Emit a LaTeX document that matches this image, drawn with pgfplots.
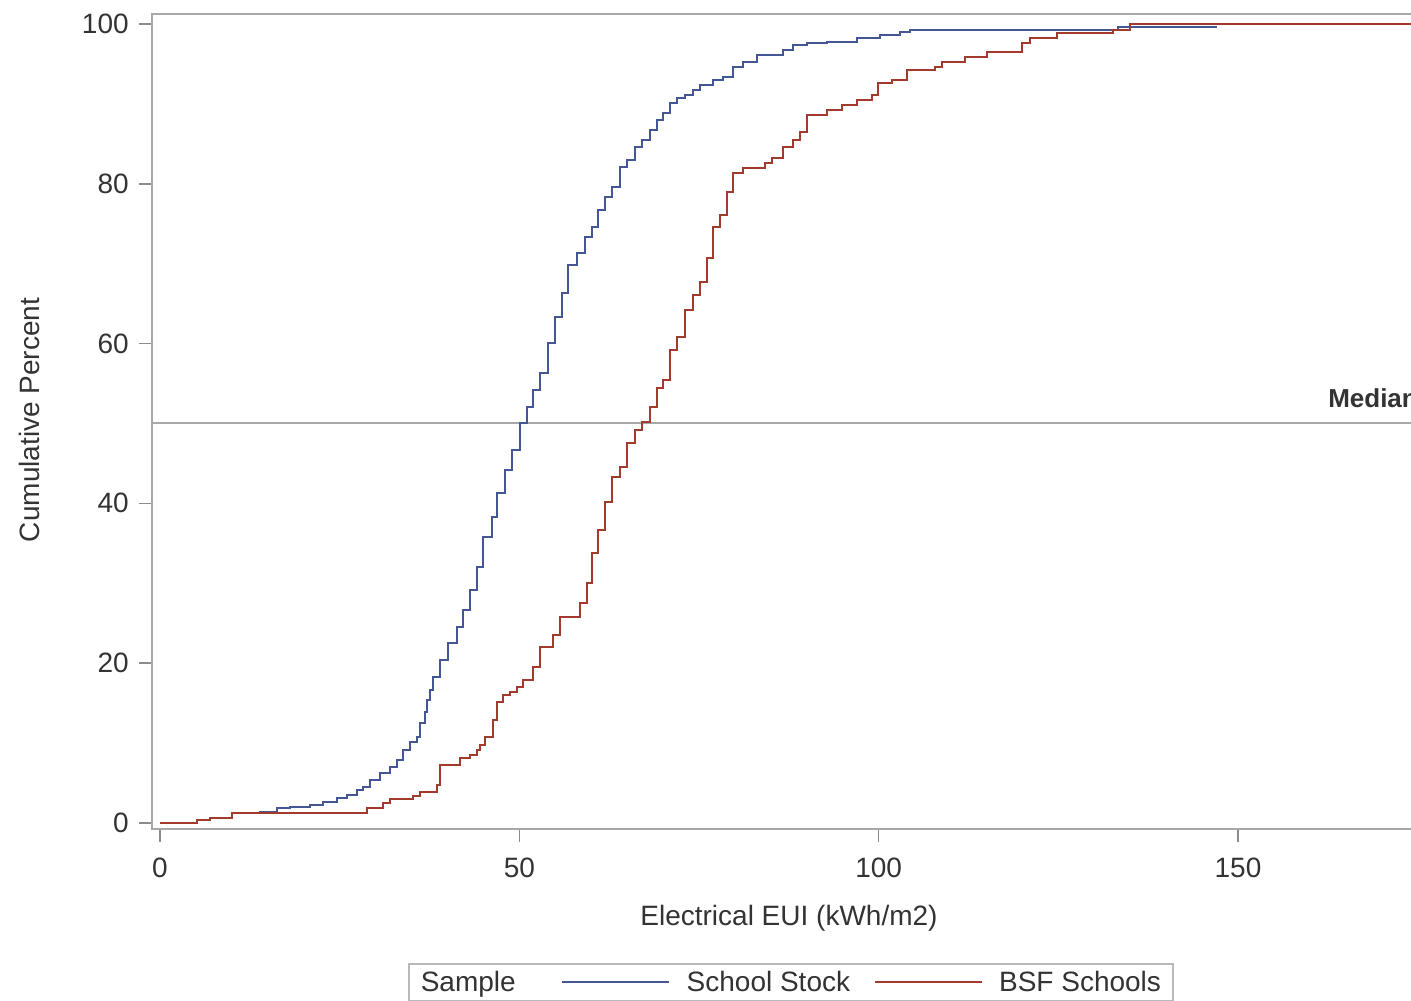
\documentclass[border=0pt]{standalone}
\usepackage{fontspec}
\setmainfont{Liberation Sans}
\usepackage{pgfplots}
\pgfplotsset{compat=1.18}
\usepackage{pgfplotstable}
\definecolor{sasblue}{HTML}{445694}
\definecolor{sasred}{HTML}{A23A2E}
\definecolor{axgray}{HTML}{A8A8A8}
\definecolor{tkgray}{HTML}{8C8C8C}
\definecolor{txt}{HTML}{333333}

\pgfplotstableread{
x y
0 0
5.15 0.38
6.96 0.63
10.02 1.25
13.91 1.38
16.28 1.88
18.09 2.00
20.87 2.25
22.68 2.63
24.63 3.13
26.02 3.50
27.41 4.13
28.25 4.51
29.22 5.38
30.61 6.26
32.00 7.01
32.98 7.88
33.81 9.14
34.79 10.14
35.76 10.76
36.18 12.52
36.87 13.89
37.15 15.39
37.57 16.65
37.99 18.27
38.96 20.40
40.07 22.53
41.32 24.53
42.16 26.66
43.13 29.16
44.11 32.04
44.94 35.79
46.19 38.30
46.89 41.30
48.00 44.18
48.98 46.68
50.09 50.06
51.06 52.07
51.90 54.19
52.87 56.32
53.99 60.08
54.96 63.33
55.93 66.33
56.77 69.84
58.02 71.34
59.13 73.34
60.11 74.59
60.94 76.72
61.92 78.35
62.89 79.60
64.00 82.10
64.98 82.98
66.09 84.61
67.07 85.48
68.18 86.73
69.15 87.98
69.99 88.86
70.96 90.11
71.94 90.74
73.05 91.11
74.16 91.74
75.14 92.37
76.95 92.99
78.34 93.37
79.73 94.62
81.12 95.24
83.07 96.12
86.68 96.75
88.08 97.37
90.02 97.62
92.80 97.75
96.98 98.25
100.18 98.62
102.96 99.00
104.35 99.25
133.32 99.62
147.07 99.62
}\stock

\pgfplotstableread{
x y
0 0
5.15 0.38
6.96 0.63
10.02 1.25
28.80 1.88
31.03 2.50
32.00 3.00
35.20 3.38
36.18 3.88
38.54 4.70
38.96 7.26
41.75 8.14
43.13 8.51
44.11 9.14
44.53 9.76
45.22 10.76
46.33 12.89
46.89 15.14
47.72 16.02
48.70 16.40
49.67 17.02
50.51 17.90
51.90 19.52
52.87 22.03
54.68 23.53
55.66 25.78
58.44 27.53
59.41 30.04
60.11 33.79
60.94 36.67
61.92 40.18
62.89 43.30
64.00 44.56
64.98 47.56
66.09 49.19
67.07 50.19
68.18 52.07
69.15 54.44
69.99 55.44
70.96 59.20
71.94 60.83
73.05 64.21
74.16 66.08
75.14 67.71
76.11 70.71
76.95 74.59
77.92 76.10
78.89 78.97
79.73 81.35
81.12 81.98
84.18 82.60
85.15 83.23
86.68 84.61
88.08 85.48
89.05 86.48
90.02 88.61
92.80 89.24
94.89 89.86
96.98 90.49
99.07 91.11
99.90 92.62
101.85 92.99
103.94 94.24
107.83 94.62
108.81 95.24
112.01 95.87
115.07 96.50
119.94 97.62
121.05 98.25
124.81 98.87
132.60 99.25
134.97 100
176.4 100
}\bsf

\begin{document}
\begin{tikzpicture}[font=\fontsize{14}{16}\selectfont]
\begin{axis}[
  x=3.5935pt, y=3.995pt,
  xmin=-1.1, xmax=176.4, ymin=-0.75, ymax=101.25,
  axis line style={axgray, line width=1pt},
  xtick={0,50,100,150}, ytick={0,20,40,60,80,100},
  xtick pos=bottom, ytick pos=left,
  tick align=outside, major tick length=6.5pt,
  tick style={tkgray, line width=0.8pt},
  minor tick num=0,
  /pgf/number format/assume math mode=true,
  xticklabel style={inner sep=0pt, yshift=-8pt, text=txt},
  yticklabel style={inner sep=0pt, xshift=-5pt, text=txt},
  clip=false,
  legend columns=3,
  legend style={at={(0.2006,-0.1644)}, anchor=north west,
    draw=axgray!80, line width=0.8pt, inner xsep=6pt, inner ysep=3.5pt,
    nodes={inner sep=0pt, text=txt}, cells={anchor=west},
    font=\fontsize{14}{16}\selectfont},
]
\addlegendimage{empty legend}
\addlegendentry{Sample}
\addplot[axgray, line width=1pt, forget plot] coordinates {(-1.1,50) (176.4,50)};
\addplot[const plot, sasblue, line width=1pt,
  legend image code/.code={\path[draw=none, fill=none] (0pt,0pt) -- (85.5pt,0pt); \draw[sasblue, line width=1pt] (23pt,0pt) -- (76.5pt,0pt);}]
  table[x=x, y=y] {\stock};
\addlegendentry{School Stock}
\addplot[const plot, sasred, line width=1pt,
  legend image code/.code={\path[draw=none, fill=none] (0pt,0pt) -- (74.5pt,0pt); \draw[sasred, line width=1pt] (12.5pt,0pt) -- (66pt,0pt);}]
  table[x=x, y=y] {\bsf};
\addlegendentry{BSF Schools}
\node[rotate=90, anchor=center, text=txt] at (axis cs:-18.09,50.44) {Cumulative Percent};
\node[anchor=center, text=txt] at (axis cs:87.52,-11.89) {Electrical EUI (kWh/m2)};
\node[anchor=base west, inner sep=0pt, text=txt, font=\bfseries\fontsize{13}{15}\selectfont] at (axis cs:162.5,51.94) {Median};
\coordinate (BL) at (axis cs:-22.26,-22.28);
\coordinate (TR) at (axis cs:174.07,103.0);
\end{axis}
\pgfresetboundingbox
\path[use as bounding box] (BL) rectangle (TR);
\end{tikzpicture}
\end{document}
